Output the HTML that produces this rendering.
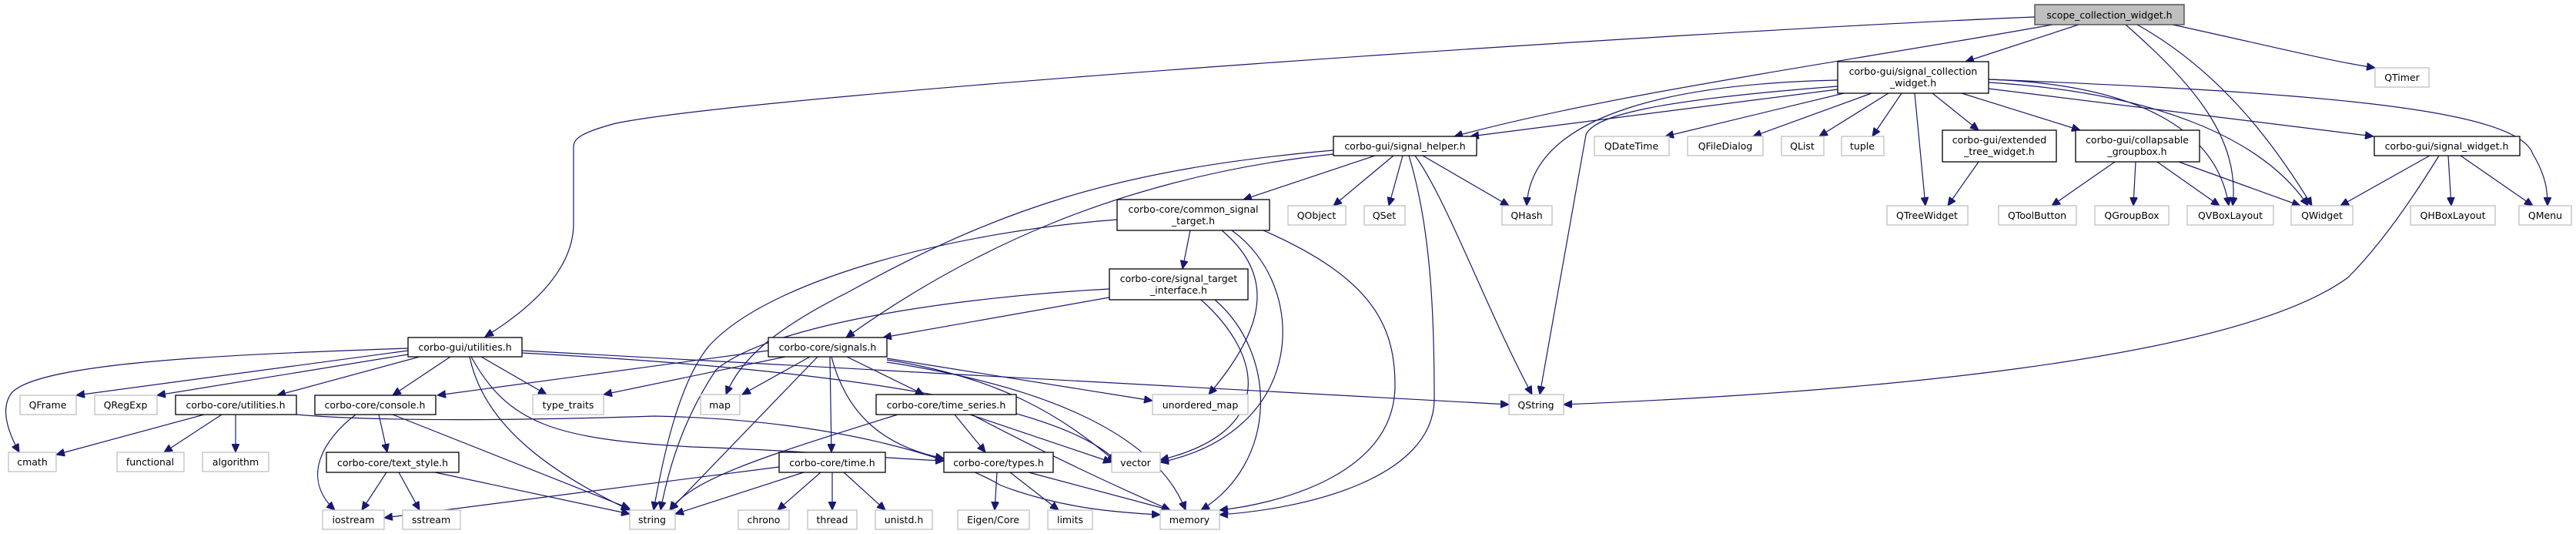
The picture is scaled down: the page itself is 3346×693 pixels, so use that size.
<!DOCTYPE html>
<html><head><meta charset="utf-8"><style>
html,body{margin:0;padding:0;background:#fff;}
svg{display:block;}
text{font-family:"DejaVu Sans","Liberation Sans",sans-serif;font-size:12.5px;fill:#000;text-anchor:middle;}
.n rect{fill:#fff;stroke:#000;stroke-width:1.3;}
.e rect{fill:#fff;stroke:#bfbfbf;stroke-width:1.3;}
path{fill:none;stroke:#191970;stroke-width:1.2;}
</style></head><body>
<svg width="3346" height="693" viewBox="0 0 3346 693" xmlns="http://www.w3.org/2000/svg">
<defs><marker id="a" markerUnits="userSpaceOnUse" markerWidth="12" markerHeight="10" refX="11" refY="5" orient="auto"><path d="M0,0 L11,5 L0,10 Z" style="fill:#191970;stroke:#191970;stroke-width:1"/></marker></defs>
<g marker-end="url(#a)">
<!-- root -->
<path d="M2643,22 C2200,40 1000,120 800,160 C755,172 745,180 745,190 L745,290 C745,350 690,400 630,437"/>
<path d="M2700,32 L2553,80"/>
<path d="M2666,32 C2400,80 2100,120 1889,177"/>
<path d="M2761,32 C2850,110 2910,180 2900,267"/>
<path d="M2776,32 C2880,90 2950,180 3003,267"/>
<path d="M2822,32 C2950,60 3030,80 3085,88"/>
<!-- signal_collection -->
<path d="M2387,116 L1910,177"/>
<path d="M2387,104 C2200,108 1990,140 1983,267"/>
<path d="M2387,112 C2150,130 2070,150 2060,175 L2000,512"/>
<path d="M2395,121 L2163,177"/>
<path d="M2431,121 L2277,177"/>
<path d="M2453,121 L2363,177"/>
<path d="M2470,121 L2432,177"/>
<path d="M2487,121 L2501,267"/>
<path d="M2510,121 L2570,169"/>
<path d="M2548,121 L2702,169"/>
<path d="M2583,103 C2780,110 2880,170 2895,267"/>
<path d="M2583,107 C2800,120 2940,180 2998,267"/>
<path d="M2583,115 L3083,177"/>
<path d="M2583,103 C3000,120 3270,140 3290,200 C3308,230 3309,250 3309,267"/>
<!-- signal_helper -->
<path d="M1810,202 L1732,267"/>
<path d="M1822,202 L1804,267"/>
<path d="M1848,202 L1960,267"/>
<path d="M1838,202 C1880,260 1930,400 1990,512"/>
<path d="M1830,202 C1860,300 1863,420 1863,520 C1860,620 1700,660 1584,668"/>
<path d="M1786,202 L1615,259"/>
<path d="M1732,200 C1450,230 1250,330 1099,438"/>
<path d="M1732,195 C1450,220 1300,270 1100,380 C1000,430 960,470 943,512"/>
<!-- common_signal_target -->
<path d="M1546,299 L1536,349"/>
<path d="M1587,299 C1660,360 1640,430 1570,512"/>
<path d="M1600,299 C1700,370 1700,560 1507,600"/>
<path d="M1641,299 C1780,360 1812,420 1812,500 C1812,620 1650,655 1584,662"/>
<path d="M1451,285 C1250,300 1000,360 920,450 C880,500 860,600 849,662"/>
<!-- signal_target_interface -->
<path d="M1441,386 L1147,438"/>
<path d="M1441,375 C1250,385 1000,420 930,480 C890,540 870,600 858,662"/>
<path d="M1560,389 C1640,460 1660,560 1507,597"/>
<path d="M1578,389 C1660,460 1660,600 1560,662"/>
<!-- signals.h -->
<path d="M998,455 L568,513"/>
<path d="M1020,463 L784,512"/>
<path d="M1052,463 L964,512"/>
<path d="M1062,463 L870,662"/>
<path d="M1078,463 L1080,587"/>
<path d="M1100,463 L1200,512"/>
<path d="M1080,463 C1100,540 1150,580 1226,595"/>
<path d="M1152,467 C1300,490 1380,540 1450,600"/>
<path d="M1152,470 C1350,500 1500,560 1540,662"/>
<path d="M1152,465 L1497,520"/>
<!-- gui utilities -->
<path d="M530,455 L99,513"/>
<path d="M530,460 L204,513"/>
<path d="M545,463 L360,513"/>
<path d="M585,463 L510,513"/>
<path d="M530,452 C300,460 50,470 15,510 C0,530 10,560 25,587"/>
<path d="M625,463 L710,512"/>
<path d="M610,463 C630,560 730,620 818,662"/>
<path d="M678,455 L1960,525"/>
<path d="M678,458 C900,470 1350,500 1450,598"/>
<path d="M612,463 C660,550 720,570 900,580 C1050,585 1150,595 1226,598"/>
<!-- console -->
<path d="M462,538 C420,570 390,620 435,662"/>
<path d="M492,538 L503,587"/>
<path d="M510,538 L818,660"/>
<!-- text_style -->
<path d="M502,613 L470,662"/>
<path d="M518,613 L545,662"/>
<path d="M565,613 L818,667"/>
<!-- core utilities -->
<path d="M265,538 L73,590"/>
<path d="M288,538 L213,587"/>
<path d="M306,538 L306,587"/>
<path d="M385,538 C500,548 700,545 850,540 C1100,545 1250,600 1300,630 C1380,660 1450,665 1507,668"/>
<!-- time.h -->
<path d="M1012,606 L499,672"/>
<path d="M1044,613 L877,667"/>
<path d="M1066,613 L1010,662"/>
<path d="M1081,613 L1081,662"/>
<path d="M1096,613 L1150,662"/>
<!-- time_series -->
<path d="M1166,538 C1000,590 900,620 870,662"/>
<path d="M1240,538 L1280,587"/>
<path d="M1260,538 L1444,600"/>
<path d="M1262,538 C1380,600 1470,640 1520,662"/>
<!-- types -->
<path d="M1295,613 L1292,662"/>
<path d="M1312,613 L1375,662"/>
<path d="M1336,613 L1520,662"/>
<!-- extended / collapsable -->
<path d="M2570,210 L2530,267"/>
<path d="M2747,210 L2665,267"/>
<path d="M2774,210 L2771,267"/>
<path d="M2802,210 L2883,267"/>
<path d="M2830,210 L2988,267"/>
<!-- signal_widget -->
<path d="M3156,202 L3040,267"/>
<path d="M3168,202 C3120,280 3080,330 3050,360 C2900,470 2400,510 2031,525"/>
<path d="M3180,202 L3184,267"/>
<path d="M3196,202 L3290,267"/>
</g>
<!-- nodes -->
<g><rect x="2643" y="6" width="194" height="26" style="fill:#bfbfbf;stroke:#404040;stroke-width:1.3"/><text x="2740" y="24">scope_collection_widget.h</text></g>
<g class="n"><rect x="2387" y="80" width="196" height="41"/><text x="2485" y="97">corbo-gui/signal_collection</text><text x="2485" y="112">_widget.h</text></g>
<g class="n"><rect x="1732" y="177" width="186" height="25"/><text x="1825" y="194">corbo-gui/signal_helper.h</text></g>
<g class="n"><rect x="2523" y="169" width="148" height="41"/><text x="2597" y="186">corbo-gui/extended</text><text x="2597" y="201">_tree_widget.h</text></g>
<g class="n"><rect x="2696" y="169" width="161" height="41"/><text x="2776" y="186">corbo-gui/collapsable</text><text x="2776" y="201">_groupbox.h</text></g>
<g class="n"><rect x="3084" y="177" width="189" height="25"/><text x="3178" y="194">corbo-gui/signal_widget.h</text></g>
<g class="n"><rect x="1451" y="259" width="198" height="40"/><text x="1550" y="276">corbo-core/common_signal</text><text x="1550" y="291">_target.h</text></g>
<g class="n"><rect x="1441" y="349" width="180" height="40"/><text x="1531" y="366">corbo-core/signal_target</text><text x="1531" y="381">_interface.h</text></g>
<g class="n"><rect x="530" y="438" width="148" height="25"/><text x="604" y="455">corbo-gui/utilities.h</text></g>
<g class="n"><rect x="998" y="438" width="154" height="25"/><text x="1075" y="455">corbo-core/signals.h</text></g>
<g class="n"><rect x="228" y="513" width="157" height="25"/><text x="306" y="530">corbo-core/utilities.h</text></g>
<g class="n"><rect x="409" y="513" width="157" height="25"/><text x="487" y="530">corbo-core/console.h</text></g>
<g class="n"><rect x="1138" y="512" width="182" height="26"/><text x="1229" y="530">corbo-core/time_series.h</text></g>
<g class="n"><rect x="424" y="587" width="172" height="26"/><text x="510" y="605">corbo-core/text_style.h</text></g>
<g class="n"><rect x="1012" y="587" width="138" height="26"/><text x="1081" y="605">corbo-core/time.h</text></g>
<g class="n"><rect x="1226" y="587" width="142" height="26"/><text x="1297" y="605">corbo-core/types.h</text></g>
<g class="e">
<rect x="3085" y="88" width="70" height="25"/><text x="3120" y="105">QTimer</text>
<rect x="2071" y="177" width="97" height="25"/><text x="2119" y="194">QDateTime</text>
<rect x="2192" y="177" width="98" height="25"/><text x="2241" y="194">QFileDialog</text>
<rect x="2314" y="177" width="55" height="25"/><text x="2341" y="194">QList</text>
<rect x="2392" y="177" width="55" height="25"/><text x="2419" y="194">tuple</text>
<rect x="1673" y="267" width="75" height="25"/><text x="1710" y="284">QObject</text>
<rect x="1772" y="267" width="53" height="25"/><text x="1798" y="284">QSet</text>
<rect x="1951" y="267" width="65" height="25"/><text x="1983" y="284">QHash</text>
<rect x="2451" y="267" width="105" height="25"/><text x="2503" y="284">QTreeWidget</text>
<rect x="2596" y="267" width="101" height="25"/><text x="2646" y="284">QToolButton</text>
<rect x="2721" y="267" width="96" height="25"/><text x="2769" y="284">QGroupBox</text>
<rect x="2841" y="267" width="112" height="25"/><text x="2897" y="284">QVBoxLayout</text>
<rect x="2976" y="267" width="80" height="25"/><text x="3016" y="284">QWidget</text>
<rect x="3131" y="267" width="110" height="25"/><text x="3186" y="284">QHBoxLayout</text>
<rect x="3272" y="267" width="68" height="25"/><text x="3306" y="284">QMenu</text>
<rect x="26" y="513" width="73" height="25"/><text x="62" y="530">QFrame</text>
<rect x="123" y="513" width="81" height="25"/><text x="163" y="530">QRegExp</text>
<rect x="692" y="512" width="92" height="26"/><text x="738" y="530">type_traits</text>
<rect x="910" y="512" width="51" height="26"/><text x="935" y="530">map</text>
<rect x="1497" y="512" width="124" height="26"/><text x="1559" y="530">unordered_map</text>
<rect x="1960" y="512" width="71" height="26"/><text x="1995" y="530">QString</text>
<rect x="11" y="587" width="62" height="25"/><text x="42" y="604">cmath</text>
<rect x="152" y="587" width="87" height="25"/><text x="195" y="604">functional</text>
<rect x="263" y="587" width="86" height="25"/><text x="306" y="604">algorithm</text>
<rect x="1444" y="587" width="63" height="26"/><text x="1475" y="605">vector</text>
<rect x="419" y="662" width="80" height="25"/><text x="459" y="679">iostream</text>
<rect x="523" y="662" width="75" height="25"/><text x="560" y="679">sstream</text>
<rect x="818" y="662" width="59" height="25"/><text x="847" y="679">string</text>
<rect x="959" y="662" width="66" height="25"/><text x="992" y="679">chrono</text>
<rect x="1049" y="662" width="64" height="25"/><text x="1081" y="679">thread</text>
<rect x="1137" y="662" width="74" height="25"/><text x="1174" y="679">unistd.h</text>
<rect x="1244" y="662" width="93" height="25"/><text x="1290" y="679">Eigen/Core</text>
<rect x="1361" y="662" width="58" height="25"/><text x="1390" y="679">limits</text>
<rect x="1507" y="662" width="77" height="25"/><text x="1545" y="679">memory</text>
</g>
</svg>
</body></html>
